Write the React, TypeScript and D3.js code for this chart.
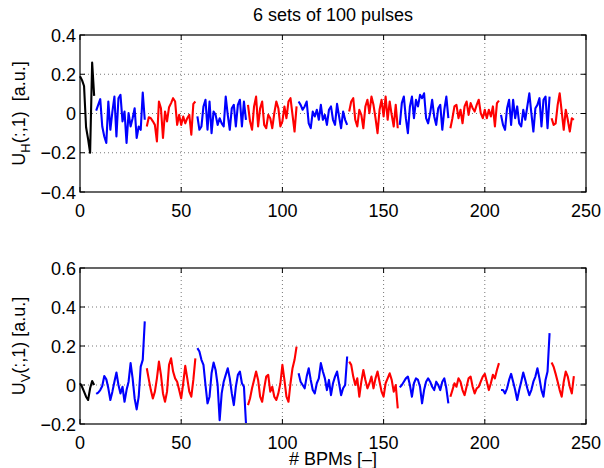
import React from "react";
import * as d3 from "d3";

const titleText = "6 sets of 100 pulses";
const xLabelText = "# BPMs [\u2013]";
const xTicks = [0, 50, 100, 150, 200, 250];
const topYTicks = [-0.4, -0.2, 0, 0.2, 0.4];
const bottomYTicks = [-0.2, 0, 0.2, 0.4, 0.6];

// BPM index where each coloured set starts, and its colour
const segmentStarts = [0, 8, 33, 58, 83, 108, 133, 158, 183, 208, 233];
const segmentColors = ["#000000", "#0000ff", "#ff0000", "#0000ff", "#ff0000", "#0000ff", "#ff0000", "#0000ff", "#ff0000", "#0000ff", "#ff0000"];

// U_H(:,1) per BPM (0..244)
const topValues = [
  0.19, 0.17, 0.14, -0.07, -0.13, -0.2, 0.26, 0.09,
  0.015, 0.044, 0.073, -0.066, -0.117, -0.15, 0.061, -0.083, 0.01, 0.086,
  -0.117, 0.078, 0.095, -0.04, 0.01, -0.15, 0.002, -0.066, -0.024, 0.027,
  -0.125, -0.066, -0.083, 0.107, -0.032,
  -0.066, -0.019, -0.024, -0.04, -0.058, -0.142, 0.061, 0.027, -0.125, 0.01,
  -0.04, 0.032, 0.053, 0.078, 0.061, -0.058, -0.007, -0.058, -0.015, -0.05,
  -0.024, -0.007, -0.108, 0.049, 0.061,
  -0.015, -0.083, -0.066, 0.036, 0.07, -0.083, 0.061, -0.1, 0.01, -0.007,
  -0.058, -0.024, -0.05, -0.066, 0.086, -0.007, -0.083, 0.027, 0.044, -0.066,
  0.044, 0.07, -0.066, 0.061, -0.032,
  0.044, -0.04, -0.083, 0.036, 0.086, -0.066, 0.027, 0.061, -0.058, -0.075,
  -0.007, -0.024, -0.075, 0.002, 0.061, 0.027, -0.066, -0.04, 0.036, -0.024,
  0.061, 0.078, -0.007, -0.092, 0.036,
  0.061, 0.044, 0.019, 0.036, 0.061, -0.05, -0.075, 0.01, -0.015, 0.019,
  -0.032, 0.044, -0.032, -0.007, -0.058, 0.019, 0.036, -0.032, -0.058, 0.049,
  -0.015, -0.075, 0.01, -0.032, -0.058,
  0.01, 0.061, 0.078, -0.032, -0.066, 0.019, -0.007, -0.075, 0.036, 0.07,
  0.002, 0.086, 0.044, -0.024, -0.1, 0.019, 0.07, -0.015, 0.086, -0.032,
  0.061, -0.007, -0.066, 0.044, -0.075,
  -0.058, 0.053, 0.086, -0.024, -0.1, 0.036, 0.086, -0.024, 0.07, 0.036,
  0.095, 0.078, 0.103, -0.024, -0.05, 0.002, 0.07, -0.015, -0.058, 0.027,
  0.044, -0.083, 0.019, 0.086, -0.024,
  -0.075, -0.024, 0.036, 0.044, -0.024, 0.019, -0.05, 0.036, 0.061, -0.007,
  0.053, 0.027, 0.01, 0.044, 0.07, 0.002, -0.024, 0.019, -0.024, 0.019,
  -0.015, 0.036, -0.066, 0.053, 0.066,
  -0.007, -0.058, -0.083, 0.027, 0.07, -0.058, 0.07, -0.024, 0.036, -0.05,
  -0.066, 0.019, -0.032, 0.036, 0.103, 0.002, -0.092, 0.027, 0.044, 0.078,
  -0.066, 0.07, 0.086, -0.075, 0.086,
  -0.024, -0.058, -0.05, 0.044, 0.103, 0.01, -0.083, 0.019, -0.032, -0.092,
  -0.024, -0.032,
];

// U_V(:,1) per BPM (0..244)
const bottomValues = [
  0.009, -0.009, -0.034, -0.06, -0.077, -0.017, 0.02, 0,
  -0.046, -0.039, -0.026, -0.005, 0.046, 0.029, -0.017, -0.077, -0.034, 0.017,
  0.064, 0, -0.043, -0.009, -0.086, -0.026, 0.017, 0.112, 0.034, -0.069,
  -0.125, -0.06, 0.094, 0.129, 0.326,
  0.086, 0.029, -0.026, -0.069, -0.034, 0.034, 0.12, 0.052, -0.043, -0.086,
  -0.034, 0.103, 0.137, 0.069, 0.034, 0.017, -0.026, -0.069, 0.009, 0.098,
  0.034, -0.034, -0.06, 0.026, 0.137,
  0.189, 0.172, 0.129, 0.103, 0, -0.094, -0.06, 0.06, 0.115, 0.077,
  0, -0.18, -0.043, 0.017, 0.052, 0.086, 0.034, -0.043, -0.103, -0.009,
  0.052, 0.069, 0.009, -0.009, -0.195,
  -0.103, -0.069, -0.017, 0.026, 0.069, 0.026, -0.06, -0.086, -0.017, 0.043,
  0.052, -0.034, -0.009, -0.06, -0.077, -0.043, 0.009, 0.103, 0.026, -0.06,
  -0.086, 0.009, 0.086, 0.129, 0.197,
  0.06, 0.017, 0, -0.017, 0.043, 0.086, 0.026, -0.026, -0.043, 0.009,
  0.034, 0.112, 0.069, 0.034, -0.026, 0.026, -0.052, 0.009, 0.043, 0.069,
  0.009, -0.052, -0.017, 0, 0.146,
  0.12, 0.103, 0.043, 0, 0.034, -0.06, 0.017, 0.077, 0.026, -0.017,
  0.009, 0.043, -0.017, 0.034, 0.069, 0.017, -0.034, -0.06, 0.009, 0.034,
  0.06, 0.026, -0.034, 0, -0.12,
  -0.012, 0, 0.017, 0.034, 0.043, 0, -0.06, 0.009, 0.034, 0.026,
  -0.009, -0.094, -0.026, 0.017, 0.034, 0.017, -0.009, -0.026, 0.017, 0,
  -0.026, 0.017, 0.034, -0.017, -0.094,
  -0.06, -0.026, 0.009, -0.009, 0.034, 0.017, -0.026, -0.052, -0.009, 0.034,
  0.043, -0.009, -0.043, -0.017, -0.009, 0.017, 0.043, 0.057, 0.017, -0.026,
  0.009, 0.052, 0.034, 0.077, 0.112,
  -0.026, -0.026, -0.043, -0.017, 0.026, 0.057, 0.017, -0.026, -0.077, -0.026,
  0.017, 0.064, 0.026, -0.017, -0.052, -0.026, 0.017, 0.043, 0.086, 0.034,
  -0.026, -0.06, 0.026, 0.069, 0.266,
  0.115, 0.094, 0.057, 0.017, -0.026, -0.06, 0.017, 0.069, 0.043, -0.009,
  -0.043, 0.046,
];

const FONT = "'Liberation Sans', Arial, Helvetica, sans-serif";
const FS = 18;
const X0 = 80;
const X1 = 586;

const fmt = (v: number) => {
  if (Math.abs(v) < 1e-9) return "0";
  const s = Math.abs(v).toFixed(1);
  return (v < 0 ? "\u2212" : "") + s;
};

type PanelProps = {
  values: number[];
  yTicks: number[];
  top: number;
  bottom: number;
  sub: string;
  labelRest: string;
};

function Panel({ values, yTicks, top, bottom, sub, labelRest }: PanelProps) {
  const x = d3.scaleLinear().domain([0, 250]).range([X0, X1]);
  const y = d3
    .scaleLinear()
    .domain([yTicks[0], yTicks[yTicks.length - 1]])
    .range([bottom, top]);

  const segs = segmentStarts.map((s, k) => {
    const e = k + 1 < segmentStarts.length ? segmentStarts[k + 1] : values.length;
    const pts: [number, number][] = [];
    for (let i = s; i < e; i++) pts.push([i, values[i]]);
    return { pts, color: segmentColors[k] };
  });
  const pathGen = d3
    .line<[number, number]>()
    .x((d) => x(d[0]))
    .y((d) => y(d[1]));

  const tickLen = 5;
  const cy = (top + bottom) / 2;
  return (
    <g>
      {xTicks
        .filter((t) => t > 0 && t < 250)
        .map((t) => (
          <line key={"gx" + t} x1={x(t)} x2={x(t)} y1={top} y2={bottom} stroke="#777" strokeWidth={1} strokeDasharray="1,3" />
        ))}
      {yTicks.slice(1, -1).map((t) => (
        <line key={"gy" + t} x1={X0} x2={X1} y1={y(t)} y2={y(t)} stroke="#777" strokeWidth={1} strokeDasharray="1,3" />
      ))}
      <g>
        {segs.map((s, k) => (
          <path key={k} d={pathGen(s.pts) || ""} fill="none" stroke={s.color} strokeWidth={2.1} strokeLinejoin="round" />
        ))}
      </g>
      {xTicks.map((t) => (
        <g key={"tx" + t}>
          <line x1={x(t)} x2={x(t)} y1={bottom} y2={bottom - tickLen} stroke="#000" />
          <line x1={x(t)} x2={x(t)} y1={top} y2={top + tickLen} stroke="#000" />
          <text x={x(t)} y={bottom + 25} textAnchor="middle" fontFamily={FONT} fontSize={FS}>
            {t}
          </text>
        </g>
      ))}
      {yTicks.map((t) => (
        <g key={"ty" + t}>
          <line x1={X0} x2={X0 + tickLen} y1={y(t)} y2={y(t)} stroke="#000" />
          <line x1={X1} x2={X1 - tickLen} y1={y(t)} y2={y(t)} stroke="#000" />
          <text x={X0 - 4} y={y(t) + 6.5} textAnchor="end" fontFamily={FONT} fontSize={FS}>
            {fmt(t)}
          </text>
        </g>
      ))}
      <rect x={X0} y={top} width={X1 - X0} height={bottom - top} fill="none" stroke="#000" strokeWidth={1.2} />
      <text
        transform={`translate(25,${cy}) rotate(-90)`}
        textAnchor="middle"
        fontFamily={FONT}
        fontSize={FS}
        style={{ whiteSpace: "pre" }}
      >
        <tspan>U</tspan>
        <tspan dy={5} fontSize={13}>
          {sub}
        </tspan>
        <tspan dy={-5}>{labelRest}</tspan>
      </text>
    </g>
  );
}

export default function App() {
  return (
    <svg
      width={604}
      height={468}
      style={{ position: "absolute", left: 0, top: 0, background: "#fff" }}
    >
      <rect x={0} y={0} width={604} height={468} fill="#fff" />
      <text x={(X0 + X1) / 2} y={21} textAnchor="middle" fontFamily={FONT} fontSize={FS}>
        {titleText}
      </text>
      <Panel values={topValues} yTicks={topYTicks} top={35} bottom={192} sub="H" labelRest={"(:,1)  [a.u.]"} />
      <Panel values={bottomValues} yTicks={bottomYTicks} top={268} bottom={424} sub="V" labelRest={"(:,1) [a.u.]"} />
      <text x={(X0 + X1) / 2} y={465} textAnchor="middle" fontFamily={FONT} fontSize={FS}>
        {xLabelText}
      </text>
    </svg>
  );
}
